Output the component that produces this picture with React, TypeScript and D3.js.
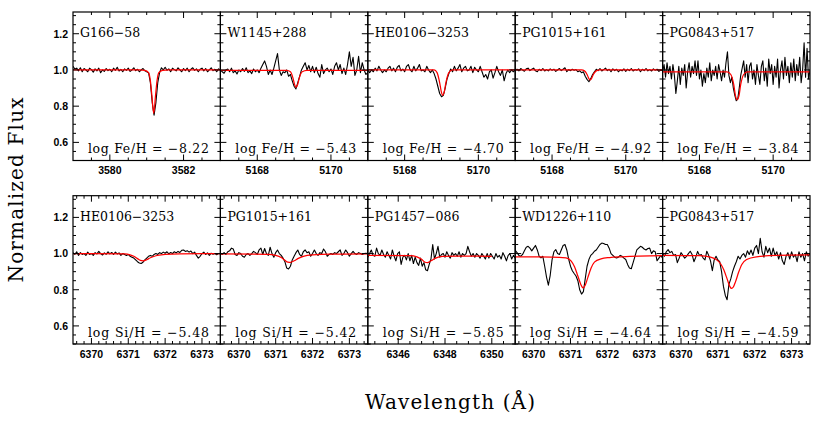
import React from 'react';
import * as d3 from 'd3';

const W = 830;
const H = 428;

// ---------- axes ----------
const yDomain = [0.5, 1.32];
const yMajorStep = 0.2;
const yMinorStep = 0.05;

// ---------- top row (Fe) ----------
const feNames = ['G166\u221258', 'W1145+288', 'HE0106\u22123253', 'PG1015+161', 'PG0843+517'];
const feAbund = ['\u22128.22', '\u22125.43', '\u22124.70', '\u22124.92', '\u22123.84'];
const feXDomains = [[3579, 3583], [5167, 5171], [5167, 5171], [5167, 5171], [5167, 5171]];
const feObsStart = [3579, 5167, 5167, 5167, 5167];
const feObsStep = [0.05, 0.05, 0.05, 0.05, 0.04];

const obsG166Fe = [
  1.02, 1.005, 1.01, 0.995, 1.012, 0.99, 1.008, 1.0, 0.99, 1.01,
  1.002, 0.988, 1.006, 0.995, 1.01, 0.985, 1.0, 0.992, 1.008, 0.996,
  1.004, 0.99, 1.01, 0.998, 1.015, 0.994, 1.003, 0.99, 1.006, 0.998,
  1.01, 0.992, 1.0, 1.012, 0.996, 1.004, 0.99, 1.0, 1.008, 0.995,
  0.99, 0.985, 0.93, 0.82, 0.75, 0.82, 0.93, 0.985, 1.012, 1.0,
  1.015, 0.998, 1.006, 0.99, 1.01, 1.002, 0.995, 1.012, 1.0, 0.99,
  1.008, 0.996, 1.01, 0.99, 1.004, 1.012, 0.998, 1.006, 0.99, 1.004,
  1.01, 0.995, 1.008, 0.99, 1.0, 1.012, 0.996, 1.004, 0.99, 1.006, 1.0,
];
const obsW1145Fe = [
  1.0, 0.99, 0.982, 1.0, 1.005, 0.99, 1.01, 0.985, 0.995, 0.978,
  1.0, 0.99, 1.008, 0.992, 1.012, 0.985, 0.995, 0.98, 1.005, 0.99,
  1.0, 0.985, 1.01, 1.03, 1.05, 1.02, 0.975, 1.0, 0.975, 1.01,
  1.05, 1.09, 1.0, 0.97, 0.99, 0.985, 1.0, 0.965, 0.975, 0.94,
  0.91, 0.895, 0.93, 0.965, 1.0, 1.02, 1.04, 1.0, 1.025, 0.99,
  1.02, 0.985, 1.015, 0.98, 0.96, 1.03, 0.98, 1.0, 1.01, 0.99,
  1.005, 0.975, 1.02, 1.04, 1.0, 1.03, 0.98, 1.01, 0.975, 1.03,
  1.1, 1.02, 1.07, 0.97, 1.0, 1.075, 0.985, 1.04, 1.0, 0.975, 0.985,
];
const obsHE0106Fe = [
  1.0, 0.985, 1.0, 0.99, 1.01, 0.995, 1.02, 1.0, 0.985, 1.0,
  0.99, 1.01, 1.02, 0.995, 1.01, 0.99, 1.015, 1.025, 0.995, 1.005,
  0.99, 1.02, 1.03, 1.0, 0.99, 1.02, 0.995, 1.01, 1.03, 0.995,
  1.0, 0.99, 1.02, 1.0, 0.985, 1.0, 0.98, 0.95, 0.91, 0.87,
  0.852, 0.86, 0.9, 0.95, 0.98, 1.005, 0.99, 1.02, 0.995, 1.01,
  1.03, 0.99, 1.01, 1.02, 0.995, 1.0, 1.02, 0.985, 1.015, 1.0,
  0.99, 1.02, 0.99, 0.96, 0.975, 0.95, 0.99, 1.0, 0.955, 0.985,
  1.02, 0.99, 0.97, 1.0, 0.94, 0.98, 1.0, 0.985, 1.0, 0.99, 1.0,
];
const obsPG1015Fe = [
  0.998, 1.004, 0.995, 1.008, 1.0, 0.993, 1.006, 1.01, 0.996, 1.004,
  1.01, 0.995, 0.99, 1.004, 0.996, 1.008, 0.994, 1.002, 0.995, 1.006,
  0.998, 1.004, 0.992, 1.0, 1.008, 0.996, 1.004, 1.012, 0.99, 1.002,
  0.996, 1.004, 0.998, 1.002, 0.99, 0.995, 0.985, 0.99, 0.965, 0.948,
  0.935, 0.952, 0.975, 0.99, 1.004, 0.996, 1.008, 0.994, 1.002, 1.01,
  0.996, 1.004, 0.99, 1.006, 0.996, 1.004, 0.99, 1.0, 0.995, 1.006,
  0.992, 1.004, 0.996, 1.008, 0.994, 1.002, 0.998, 1.006, 0.99, 1.004,
  0.996, 1.008, 0.995, 1.002, 0.994, 1.006, 0.998, 1.004, 0.992, 1.0, 0.996,
];
const obsPG0843Fe = [
  0.99, 1.03, 0.96, 1.04, 0.98, 1.02, 0.95, 1.03, 0.97, 0.87,
  0.94, 1.02, 0.92, 1.01, 0.97, 1.03, 0.9, 0.99, 1.04, 0.96,
  1.02, 0.98, 1.05, 0.97, 1.05, 0.95, 1.0, 0.91, 0.98, 0.93,
  1.01, 0.96, 1.04, 0.94, 1.0, 0.97, 1.02, 0.95, 1.03, 0.99,
  0.94, 1.0, 0.96, 1.04, 1.1, 0.97, 0.93, 0.96, 0.9, 0.86,
  0.83, 0.84, 0.9, 0.97, 1.01, 1.05, 0.96, 1.03, 0.93, 1.02,
  1.04, 0.95, 1.0, 0.92, 1.03, 0.97, 0.92, 1.02, 1.05, 0.94,
  1.01, 0.91, 1.06, 0.98, 1.03, 0.92, 1.02, 0.96, 1.06, 0.9,
  1.0, 1.05, 0.95, 1.07, 0.97, 1.02, 0.93, 1.04, 0.96, 1.06,
  0.94, 1.03, 0.97, 1.07, 0.93, 1.0, 1.15, 0.96, 1.12, 0.95, 1.0,
];

const modelG166FeWave = [3579, 3580.8, 3580.95, 3581.05, 3581.1, 3581.14, 3581.19, 3581.24, 3581.28, 3581.33, 3581.43, 3581.6, 3583];
const modelG166FeFlux = [1.0, 1.0, 0.998, 0.985, 0.94, 0.86, 0.76, 0.86, 0.94, 0.985, 0.998, 1.0, 1.0];
const modelW1145FeWave = [5167, 5168.8, 5168.9, 5168.97, 5169.02, 5169.05, 5169.09, 5169.14, 5169.22, 5169.35, 5171];
const modelW1145FeFlux = [0.998, 0.998, 0.99, 0.955, 0.915, 0.905, 0.915, 0.955, 0.99, 0.998, 0.998];
const modelHE0106FeWave = [5167, 5168.8, 5168.88, 5168.95, 5169.0, 5169.03, 5169.07, 5169.12, 5169.2, 5169.3, 5171];
const modelHE0106FeFlux = [1.0, 1.0, 0.985, 0.93, 0.875, 0.86, 0.875, 0.93, 0.985, 1.0, 1.0];
const modelPG1015FeWave = [5167, 5168.8, 5168.88, 5168.95, 5169.0, 5169.03, 5169.07, 5169.12, 5169.2, 5169.3, 5171];
const modelPG1015FeFlux = [1.0, 1.0, 0.995, 0.975, 0.952, 0.945, 0.952, 0.975, 0.995, 1.0, 1.0];
const modelPG0843FeWave = [5167, 5168.75, 5168.85, 5168.93, 5168.98, 5169.02, 5169.07, 5169.12, 5169.2, 5169.3, 5171];
const modelPG0843FeFlux = [0.99, 0.99, 0.975, 0.92, 0.855, 0.835, 0.855, 0.92, 0.975, 0.99, 0.99];

// ---------- bottom row (Si) ----------
const siNames = ['HE0106\u22123253', 'PG1015+161', 'PG1457\u2212086', 'WD1226+110', 'PG0843+517'];
const siAbund = ['\u22125.48', '\u22125.42', '\u22125.85', '\u22124.64', '\u22124.59'];
const siXDomains = [[6369.5, 6373.5], [6369.5, 6373.5], [6344.7, 6351.0], [6369.5, 6373.5], [6369.5, 6373.5]];
const siObsStart = [6369.5, 6369.5, 6344.7, 6369.5, 6369.5];
const siObsStep = [0.05, 0.05, 0.075, 0.05, 0.05];

const obsHE0106Si = [
  1.005, 0.995, 1.01, 0.99, 1.005, 0.995, 1.0, 0.99, 1.008, 0.995,
  1.0, 0.99, 1.005, 0.998, 1.012, 1.0, 0.992, 1.004, 0.996, 1.01,
  0.998, 1.006, 0.995, 1.008, 0.998, 1.004, 0.99, 1.0, 0.995, 0.99,
  0.995, 0.985, 0.98, 0.975, 0.965, 0.955, 0.948, 0.945, 0.952, 0.965,
  0.975, 0.985, 0.99, 0.985, 0.995, 1.0, 0.995, 1.005, 1.0, 1.008,
  1.002, 1.01, 0.998, 1.006, 1.0, 1.01, 1.004, 1.012, 1.006, 1.018,
  1.02, 1.012, 1.016, 1.008, 1.014, 1.0, 1.008, 0.99, 0.975, 0.985,
  1.0, 1.008, 0.995, 1.004, 0.99, 1.002, 0.996, 1.0, 0.994, 1.0, 0.998,
];
const obsPG1015Si = [
  1.0, 0.995, 1.005, 0.995, 1.01, 1.015, 1.03, 1.025, 0.995, 0.99,
  1.005, 1.0, 0.985, 0.98, 0.995, 1.0, 0.99, 1.0, 1.012, 1.005,
  0.995, 1.02, 1.03, 0.995, 1.028, 1.0, 0.99, 1.035, 1.0, 0.98,
  1.005, 1.02, 1.0, 0.99, 0.975, 0.955, 0.92, 0.915, 0.93, 0.965,
  0.985, 1.005, 1.02, 0.995, 0.985, 1.01, 1.02, 1.005, 1.01, 0.985,
  1.0, 1.02, 1.0, 0.99, 1.005, 1.0, 1.025, 1.01, 0.985, 0.995,
  1.0, 0.995, 1.005, 1.0, 1.01, 1.02, 0.99, 1.0, 1.02, 1.005,
  0.985, 1.0, 1.012, 1.0, 0.995, 1.005, 1.0, 0.995, 1.0, 1.002, 1.0,
];
const obsPG1457Si = [
  0.98, 1.0, 1.02, 0.99, 0.985, 1.03, 1.0, 0.99, 1.02, 0.995,
  0.98, 1.01, 0.99, 0.97, 1.02, 0.985, 0.96, 1.0, 1.01, 0.94,
  0.98, 0.99, 0.965, 1.0, 0.96, 0.99, 0.945, 0.98, 0.95, 0.935,
  0.975, 0.93, 0.95, 0.91, 0.905, 0.94, 0.97, 1.05, 0.97, 1.0,
  1.04, 0.98, 0.995, 1.0, 0.98, 1.01, 0.99, 0.975, 1.005, 0.99,
  1.0, 0.985, 1.01, 0.98, 1.0, 0.99, 1.0, 1.04, 1.01, 0.985,
  1.0, 0.98, 1.0, 0.99, 0.975, 1.0, 0.985, 0.97, 1.0, 0.975,
  1.0, 0.985, 0.97, 1.0, 0.98, 0.99, 0.97, 1.005, 0.985, 0.96,
  0.99, 1.0, 0.97, 0.99, 0.975,
];
const obsWD1226Si = [
  1.018, 1.005, 0.99, 0.985, 0.995, 1.015, 1.035, 1.04, 1.03, 1.015,
  1.03, 1.045, 1.02, 0.985, 0.976, 0.985, 0.93, 0.87, 0.825, 0.88,
  0.965, 1.01, 1.022, 1.0, 0.995, 1.02, 1.045, 1.05, 1.02, 0.97,
  0.93, 0.905, 0.89, 0.876, 0.85, 0.8, 0.776, 0.79, 0.86, 0.93,
  0.967, 0.99, 1.0, 1.013, 1.02, 1.035, 1.05, 1.058, 1.056, 1.05,
  1.05, 1.03, 1.0, 0.99, 0.98, 0.976, 0.98, 0.99, 0.985, 0.975,
  0.967, 0.94, 0.92, 0.916, 0.95, 0.985, 1.02, 1.03, 1.04, 1.035,
  1.025, 1.02, 1.028, 1.03, 1.0, 1.015, 1.01, 0.96, 0.975, 0.99, 0.975,
];
const obsPG0843Si = [
  1.0, 0.985, 1.01, 1.022, 1.005, 1.012, 0.99, 0.995, 0.95, 0.975,
  1.005, 0.99, 0.975, 0.985, 1.0, 1.013, 0.995, 0.955, 0.98, 1.012,
  0.99, 0.995, 0.975, 0.965, 1.013, 0.99, 0.96, 0.905, 0.965, 0.985,
  0.965, 0.955, 0.9, 0.82, 0.77, 0.745, 0.83, 0.86, 0.9, 0.93,
  0.955, 0.985, 0.97, 0.99, 1.0, 0.98, 1.015, 0.995, 1.02, 0.99,
  1.03, 1.045, 1.0, 1.085, 1.01, 0.98, 1.04, 1.005, 1.03, 0.985,
  1.03, 0.99, 1.01, 0.97, 1.005, 0.96, 0.94, 0.985, 1.005, 0.97,
  1.01, 0.98, 0.995, 0.955, 1.01, 0.98, 1.0, 0.96, 1.01, 0.985, 1.0,
];

const modelHE0106SiWave = [6369.5, 6370.9, 6371.05, 6371.15, 6371.25, 6371.33, 6371.4, 6371.5, 6371.6, 6371.75, 6372.0, 6372.4, 6373.5];
const modelHE0106SiFlux = [1.0, 0.998, 0.993, 0.985, 0.972, 0.962, 0.96, 0.966, 0.977, 0.988, 0.995, 0.999, 1.0];
const modelPG1015SiWave = [6369.5, 6370.8, 6371.0, 6371.15, 6371.25, 6371.33, 6371.4, 6371.5, 6371.6, 6371.75, 6372.0, 6372.5, 6373.5];
const modelPG1015SiFlux = [0.998, 0.996, 0.99, 0.978, 0.963, 0.953, 0.952, 0.96, 0.972, 0.985, 0.993, 0.997, 0.998];
const modelPG1457SiWave = [6344.7, 6346.5, 6346.8, 6347.0, 6347.15, 6347.25, 6347.4, 6347.6, 6347.9, 6348.5, 6350.0];
const modelPG1457SiFlux = [0.99, 0.988, 0.982, 0.968, 0.952, 0.95, 0.96, 0.975, 0.984, 0.986, 0.985];
const modelWD1226SiWave = [6369.5, 6370.5, 6370.88, 6371.02, 6371.11, 6371.2, 6371.29, 6371.34, 6371.4, 6371.47, 6371.56, 6371.65, 6371.83, 6372.06, 6372.4, 6373.5];
const modelWD1226SiFlux = [0.982, 0.981, 0.976, 0.958, 0.927, 0.876, 0.825, 0.81, 0.825, 0.867, 0.92, 0.953, 0.971, 0.978, 0.982, 0.988];
const modelPG0843SiWave = [6369.5, 6370.5, 6370.8, 6370.96, 6371.07, 6371.16, 6371.25, 6371.32, 6371.37, 6371.42, 6371.48, 6371.56, 6371.65, 6371.78, 6372.05, 6372.6, 6373.5];
const modelPG0843SiFlux = [0.99, 0.988, 0.98, 0.967, 0.945, 0.91, 0.86, 0.82, 0.807, 0.815, 0.845, 0.895, 0.94, 0.967, 0.982, 0.99, 0.993];

const feObs = [obsG166Fe, obsW1145Fe, obsHE0106Fe, obsPG1015Fe, obsPG0843Fe];
const feModelWave = [modelG166FeWave, modelW1145FeWave, modelHE0106FeWave, modelPG1015FeWave, modelPG0843FeWave];
const feModelFlux = [modelG166FeFlux, modelW1145FeFlux, modelHE0106FeFlux, modelPG1015FeFlux, modelPG0843FeFlux];
const feXMajor = [2, 2, 2, 2, 2];
const feXMinor = [0.5, 0.5, 0.5, 0.5, 0.5];

const siObs = [obsHE0106Si, obsPG1015Si, obsPG1457Si, obsWD1226Si, obsPG0843Si];
const siModelWave = [modelHE0106SiWave, modelPG1015SiWave, modelPG1457SiWave, modelWD1226SiWave, modelPG0843SiWave];
const siModelFlux = [modelHE0106SiFlux, modelPG1015SiFlux, modelPG1457SiFlux, modelWD1226SiFlux, modelPG0843SiFlux];
const siXMajor = [1, 1, 2, 1, 1];
const siXMinor = [0.2, 0.2, 0.5, 0.2, 0.2];

// ---------- helpers ----------
function tickVals(lo: number, hi: number, step: number): number[] {
  const out: number[] = [];
  const k0 = Math.ceil(lo / step - 1e-6);
  const k1 = Math.floor(hi / step + 1e-6);
  for (let k = k0; k <= k1; k++) out.push(+(k * step).toFixed(6));
  return out;
}
function isMajor(v: number, step: number): boolean {
  const r = v / step;
  return Math.abs(r - Math.round(r)) < 1e-6;
}

const SERIF = "'DejaVu Serif', serif";
const SANS = "'Liberation Sans', Arial, sans-serif";

const LEFT = 73;
const RIGHT = 810;
const PW = (RIGHT - LEFT) / 5;

const rows = [
  {
    key: 'fe', top: 12, bottom: 160.5, elem: 'Fe',
    names: feNames, abund: feAbund, xDomains: feXDomains, obsStart: feObsStart, obsStep: feObsStep,
    obs: feObs, mWave: feModelWave, mFlux: feModelFlux, xMajor: feXMajor, xMinor: feXMinor,
  },
  {
    key: 'si', top: 195.7, bottom: 344, elem: 'Si',
    names: siNames, abund: siAbund, xDomains: siXDomains, obsStart: siObsStart, obsStep: siObsStep,
    obs: siObs, mWave: siModelWave, mFlux: siModelFlux, xMajor: siXMajor, xMinor: siXMinor,
  },
];

function Panel({ row, i }: { row: any; i: number }) {
  const x0 = LEFT + i * PW;
  const x1 = x0 + PW;
  const dom = row.xDomains[i];
  const x = d3.scaleLinear().domain(dom).range([x0, x1]);
  const y = d3.scaleLinear().domain(yDomain).range([row.bottom, row.top]);
  const obsPts: [number, number][] = row.obs[i].map((f: number, k: number) => [row.obsStart[i] + k * row.obsStep[i], f]);
  const modPts: [number, number][] = row.mWave[i].map((w: number, k: number) => [w, row.mFlux[i][k]]);
  const obsLine = d3.line<[number, number]>().x(d => x(d[0])).y(d => y(d[1]));
  const modLine = d3.line<[number, number]>().x(d => x(d[0])).y(d => y(d[1])).curve(d3.curveMonotoneX);
  const clipId = `clip-${row.key}-${i}`;

  const xt = tickVals(dom[0], dom[1], row.xMinor[i]);
  const yt = tickVals(yDomain[0], yDomain[1], yMinorStep);
  const MAJ = 6, MIN = 3;
  const ticks: React.ReactNode[] = [];
  xt.forEach((v, k) => {
    const px = x(v);
    if (Math.abs(px - x0) < 0.5 || Math.abs(px - x1) < 0.5) return;
    const len = isMajor(v, row.xMajor[i]) ? MAJ : MIN;
    ticks.push(<line key={`xb${k}`} x1={px} x2={px} y1={row.bottom} y2={row.bottom - len} />);
    ticks.push(<line key={`xt${k}`} x1={px} x2={px} y1={row.top} y2={row.top + len} />);
  });
  yt.forEach((v, k) => {
    const py = y(v);
    const len = isMajor(v, yMajorStep) ? MAJ : MIN;
    ticks.push(<line key={`yl${k}`} x1={x0} x2={x0 + len} y1={py} y2={py} />);
    ticks.push(<line key={`yr${k}`} x1={x1} x2={x1 - len} y1={py} y2={py} />);
  });

  const xLabels = xt.filter(v => isMajor(v, row.xMajor[i]));
  const yLabels = yt.filter(v => isMajor(v, yMajorStep));

  return (
    <g>
      <defs>
        <clipPath id={clipId}>
          <rect x={x0} y={row.top} width={PW} height={row.bottom - row.top} />
        </clipPath>
      </defs>
      <g clipPath={`url(#${clipId})`}>
        <path d={obsLine(obsPts) || ''} fill="none" stroke="#000" strokeWidth={1.1} strokeLinejoin="round" />
        <path d={modLine(modPts) || ''} fill="none" stroke="#ff0000" strokeWidth={1.25} />
      </g>
      <g stroke="#000" strokeWidth={1}>{ticks}</g>
      <rect x={x0} y={row.top} width={PW} height={row.bottom - row.top} fill="none" stroke="#000" strokeWidth={1.2} />
      <text x={x0 + 7} y={row.top + 25} fontFamily={SERIF} fontSize={12.5} fill="#000">{row.names[i]}</text>
      <text x={x1 - 11.5 - 121} y={row.bottom - 7.5} fontFamily={SERIF} fontSize={12.5} fill="#000"
        textLength={121} lengthAdjust="spacing">{`log ${row.elem}/H = ${row.abund[i]}`}</text>
      {xLabels.map((v, k) => (
        <text key={`xl${k}`} x={x(v)} y={row.bottom + 13.5} textAnchor="middle" fontFamily={SANS} fontSize={10.5}
          fontWeight="bold" fill="#000">{String(v)}</text>
      ))}
      {i === 0 && yLabels.map((v, k) => (
        <text key={`yl${k}`} x={x0 - 5} y={y(v) + 3.8} textAnchor="end" fontFamily={SANS} fontSize={10.5}
          fontWeight="bold" fill="#000">{v.toFixed(1)}</text>
      ))}
    </g>
  );
}

export default function App() {
  return (
    <svg width={W} height={H} viewBox={`0 0 ${W} ${H}`}
      style={{ position: 'absolute', left: 0, top: 0, display: 'block', background: '#fff' }}>
      <rect x={0} y={0} width={W} height={H} fill="#fff" />
      {rows.map(row => (
        <g key={row.key}>
          {[0, 1, 2, 3, 4].map(i => <Panel key={i} row={row} i={i} />)}
        </g>
      ))}
      <text transform="translate(23,190) rotate(-90)" textAnchor="middle" fontFamily={SERIF} fontSize={20}
        textLength={185} lengthAdjust="spacing" fill="#000">Normalized Flux</text>
      <text x={450} y={409} textAnchor="middle" fontFamily={SERIF} fontSize={20}
        textLength={170} lengthAdjust="spacing" fill="#000">Wavelength (Å)</text>
    </svg>
  );
}
